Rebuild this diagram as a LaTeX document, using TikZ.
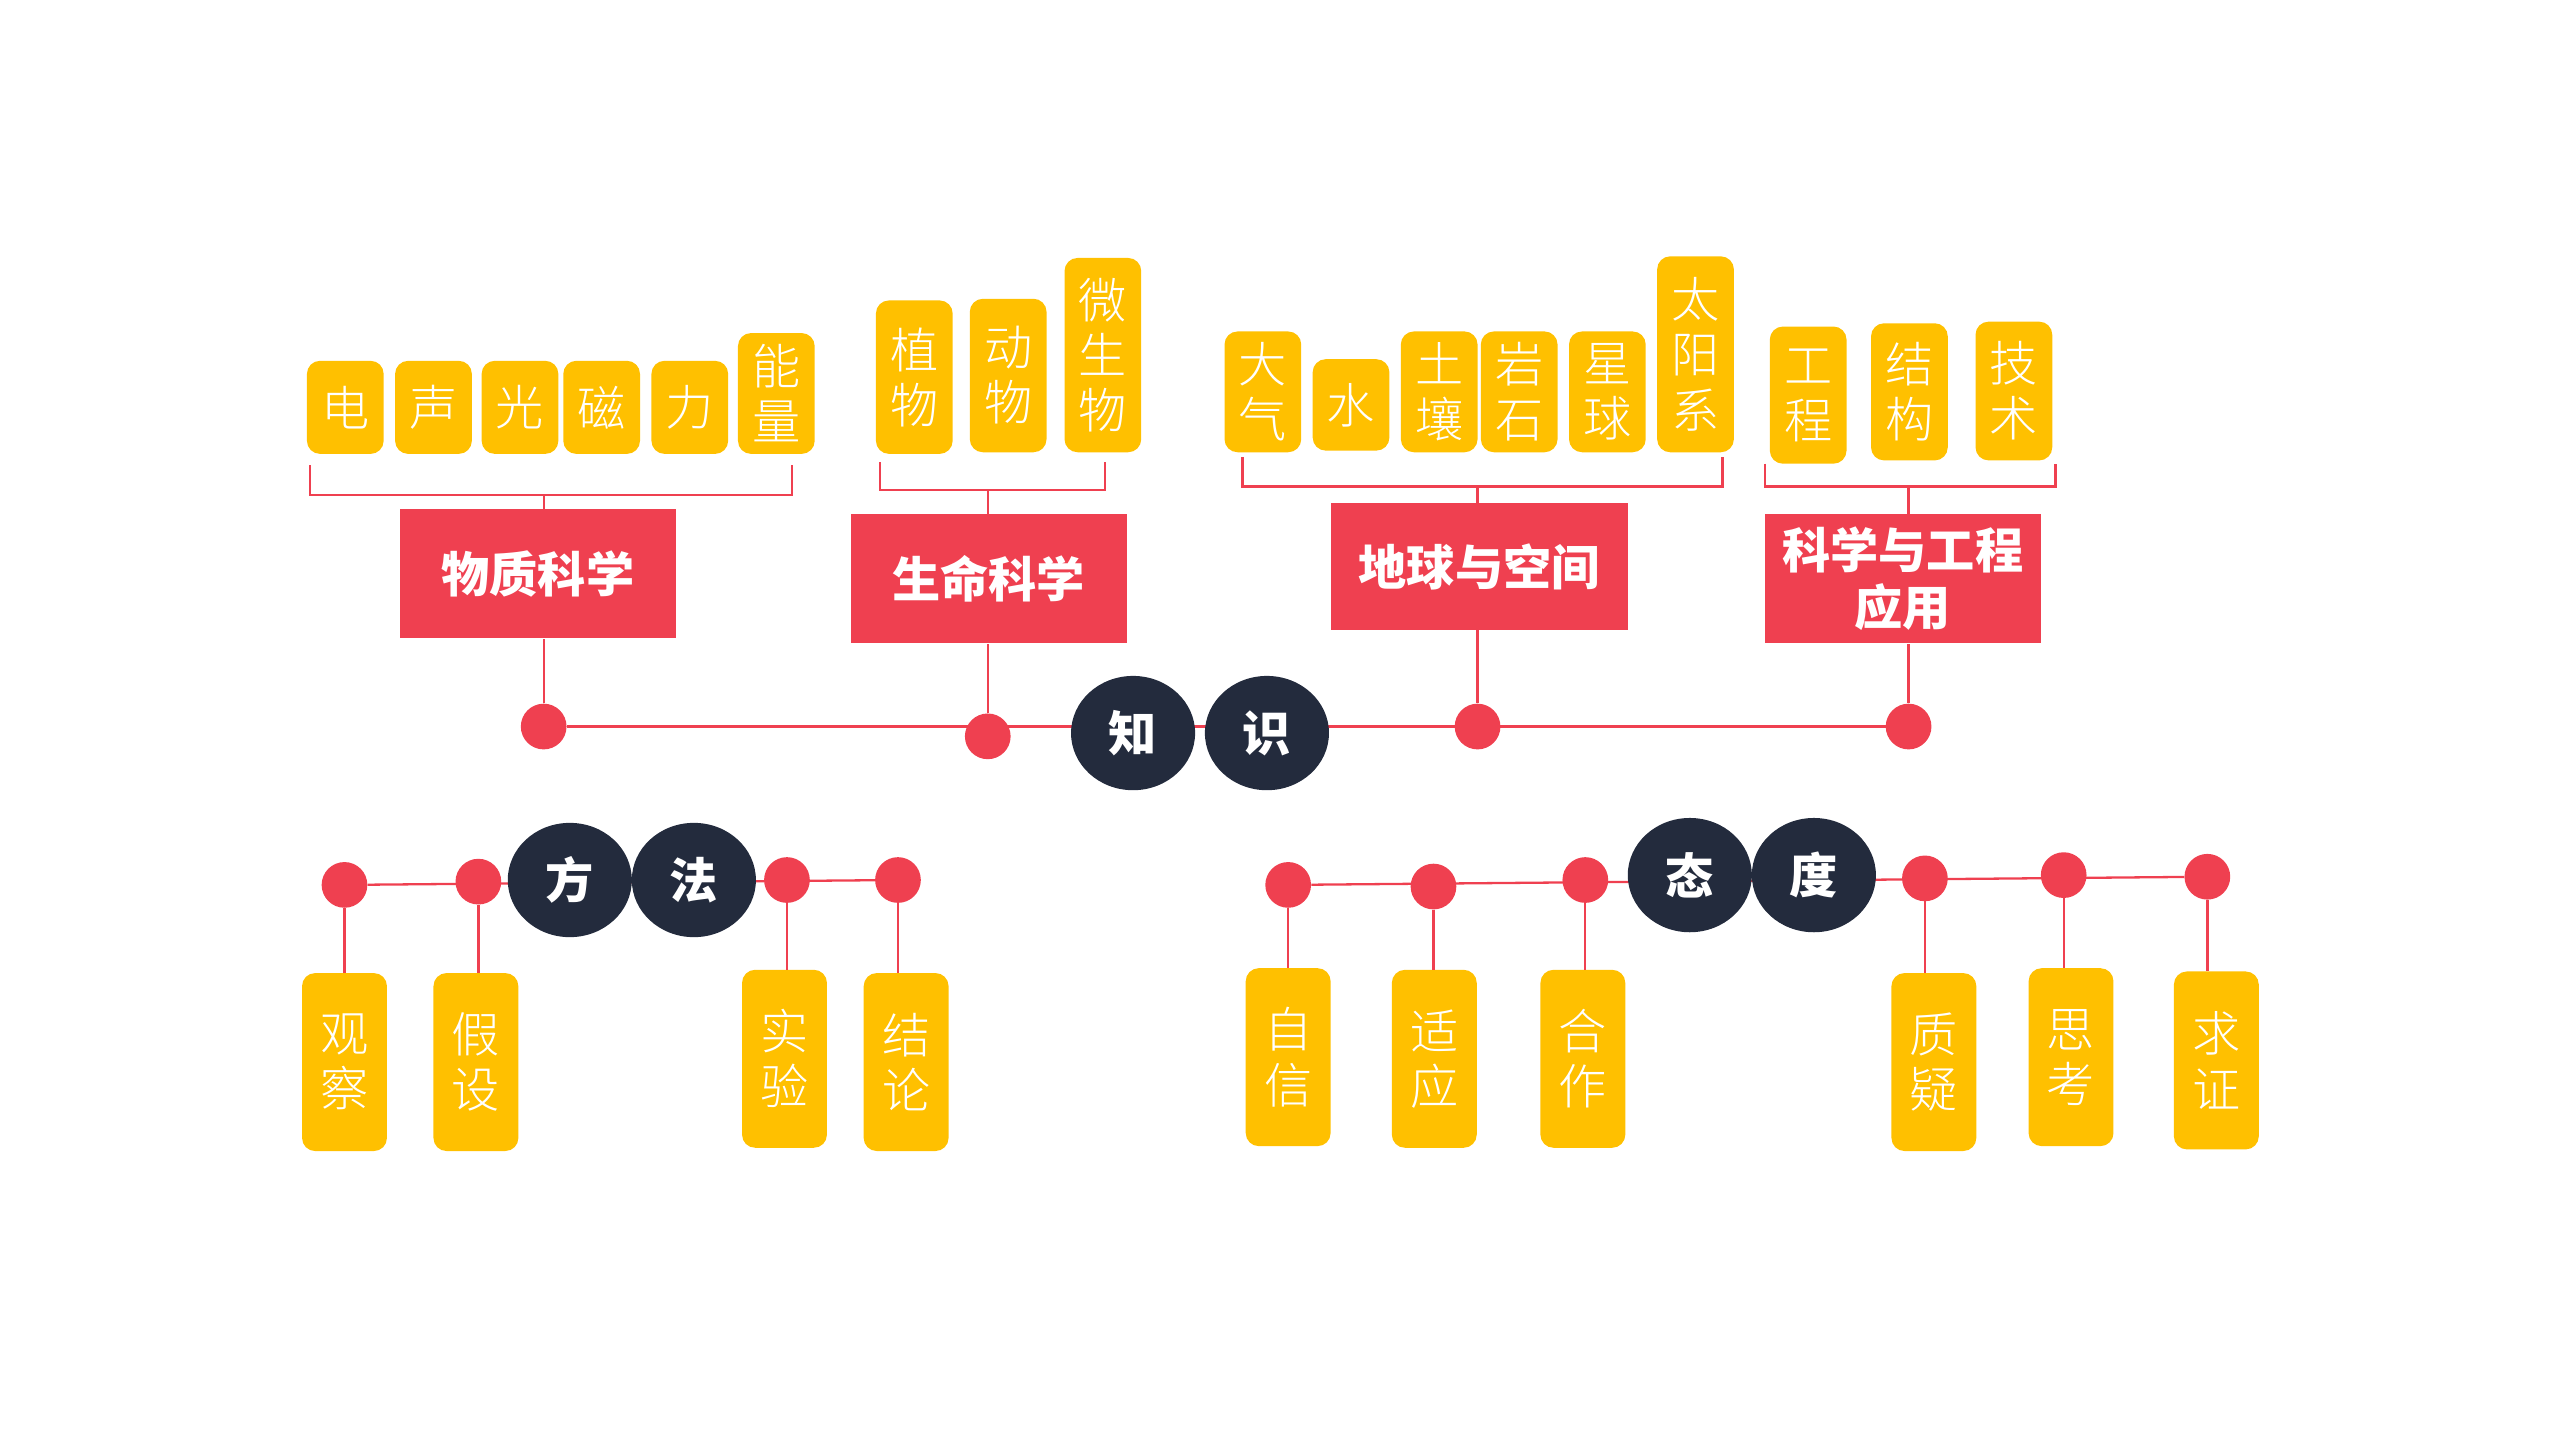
\documentclass[tikz,border=0pt]{standalone}
\usepackage{fontspec}
\setmainfont{Noto Sans CJK SC}
\newfontfamily\thincjk{Noto Sans CJK SC Light}
\usetikzlibrary{shapes.geometric}
\definecolor{gold}{HTML}{FFC000}
\definecolor{coral}{HTML}{EF4050}
\definecolor{navy}{HTML}{232B3D}
\tikzset{
  ybox/.style={fill=gold, rounded corners=0.4cm, minimum width=2.35cm, inner sep=0pt,
    text=white, align=center, font=\thincjk\fontsize{42}{48}\selectfont},
  lowbox/.style={ybox, minimum width=2.6cm, minimum height=5.45cm},
  rbox/.style={fill=coral, minimum width=8.45cm, minimum height=3.95cm, inner sep=0pt,
    text=white, align=center, font=\fontsize{42}{50}\selectfont\bfseries},
  ball/.style={ellipse, fill=navy, minimum width=3.8cm, minimum height=3.5cm, inner sep=0pt,
    text=white, font=\fontsize{42}{48}\selectfont\bfseries},
  reddot/.style={circle, fill=coral, minimum size=1.4cm, inner sep=0pt},
  link/.style={coral, line width=2pt},
}
\begin{document}
\begin{tikzpicture}[x=0.05cm, y=-0.05cm]
\useasboundingbox (0,0) rectangle (1568,882);

% knowledge axis
\node[reddot] (k1) at (333,445) {};
\node[reddot] (k4) at (1169,445) {};
\draw[link] (k1) -- (k4);
\node[reddot] (k2) at (605,451) {};
\node[reddot] (k3) at (905,445) {};
\node[ball] (zhi) at (694,449) {知};
\node[ball] (shi) at (776,449) {识};

% four fields
\node[rbox] (f1) at (329.5,351.5) {物质科学};
\node[rbox] (f2) at (605.5,354.5) {生命科学};
\node[rbox, minimum width=9.1cm, minimum height=3.9cm] (f3) at (906,347) {地球与空间};
\node[rbox] (f4) at (1165.5,354.5) {科学与工程\\应用};
\foreach \k/\f/\b in {k1/f1/303, k2/f2/300, k3/f3/298, k4/f4/298}
  \draw[link] (\k) -- (\k |- \f.south) (\k |- \f.north) -- (\k |- 0,\b);

% brackets
\draw[link] (190,285) |- (485,303) -- (485,285);
\draw[link] (539,283) |- (677,300) -- (677,283);
\draw[link] (761,280) |- (1055,298) -- (1055,280);
\draw[link] (1081,284) |- (1259,298) -- (1259,284);

% topics
\foreach \n/\t/\x/\y/\h in {
  t1/电/211.5/249.5/57, t2/声/265.5/249.5/57, t3/光/318.5/249.5/57,
  t4/磁/368.5/249.5/57, t5/力/422.5/249.5/57, t6/能\\量/475.5/241/74,
  t7/植\\物/560/231/94, t8/动\\物/617.5/230/94, t9/微\\生\\物/675.5/217.5/119,
  t10/大\\气/773.5/240/74, t11/水/827.5/248/56, t12/土\\壤/881.5/240/74,
  t13/岩\\石/930.5/240/74, t14/星\\球/984.5/240/74, t15/太\\阳\\系/1038.5/217/120,
  t16/工\\程/1107.5/242/84, t17/结\\构/1169.5/240/84, t18/技\\术/1233.5/239.5/85}
  \node[ybox, minimum height=\h*0.05cm] (\n) at (\x,\y) {\t};

% methods
\node[reddot] (m1) at (211,542) {};
\node[reddot] (m4) at (550,539) {};
\draw[link] (m1) -- (m4);
\node[reddot] (m2) at (293,540) {};
\node[reddot] (m3) at (482,539) {};
\node[ball] (fang) at (349,539) {方};
\node[ball] (fa) at (425,539) {法};
\foreach \m/\n/\t/\x/\y in {m1/g1/观\\察/211/650.5, m2/g2/假\\设/291.5/650.5,
  m3/g3/实\\验/480.5/648.5, m4/g4/结\\论/555/650.5} {
  \node[lowbox] (\n) at (\x,\y) {\t};
  \draw[link] (\m) -- (\m |- \n.north);
}

% attitudes
\node[reddot] (a1) at (789,542) {};
\node[reddot] (a6) at (1352,537) {};
\draw[link] (a1) -- (a6);
\node[reddot] (a2) at (878,543) {};
\node[reddot] (a3) at (971,539) {};
\node[reddot] (a4) at (1179,538) {};
\node[reddot] (a5) at (1264,536) {};
\node[ball] (tai) at (1035,536) {态};
\node[ball] (du) at (1111,536) {度};
\foreach \m/\n/\t/\x/\y in {a1/h1/自\\信/789/647.5, a2/h2/适\\应/878.5/648.5,
  a3/h3/合\\作/969.5/648.5, a4/h4/质\\疑/1184.5/650.5,
  a5/h5/思\\考/1268.5/647.5, a6/h6/求\\证/1357.5/649.5} {
  \node[lowbox] (\n) at (\x,\y) {\t};
  \draw[link] (\m) -- (\m |- \n.north);
}
\end{tikzpicture}
\end{document}
